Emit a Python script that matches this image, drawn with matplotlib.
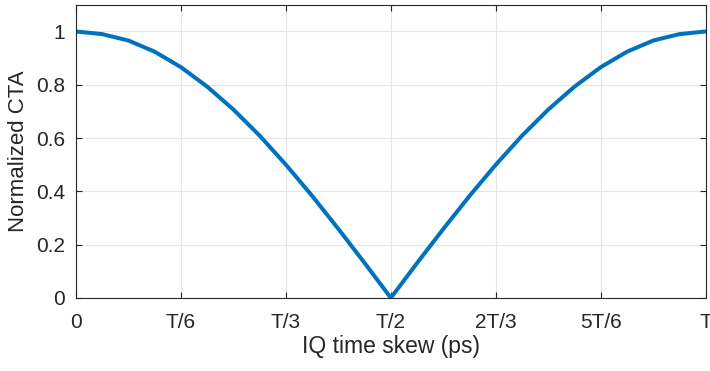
import matplotlib
matplotlib.use('Agg')
import matplotlib.pyplot as plt

# IQ skew as fraction of symbol period T, normalized CTA
skew = [0, 1/24, 2/24, 3/24, 4/24, 5/24, 6/24, 7/24, 8/24, 9/24, 10/24, 11/24, 12/24,
        13/24, 14/24, 15/24, 16/24, 17/24, 18/24, 19/24, 20/24, 21/24, 22/24, 23/24, 1]
cta = [1.0, 0.99, 0.966, 0.924, 0.866, 0.793, 0.707, 0.609, 0.5, 0.383, 0.259, 0.131, 0.0,
       0.131, 0.259, 0.383, 0.5, 0.609, 0.707, 0.793, 0.866, 0.924, 0.966, 0.99, 1.0]

xticks = [0, 1/6, 1/3, 1/2, 2/3, 5/6, 1]
xticklabels = ['0', 'T/6', 'T/3', 'T/2', '2T/3', '5T/6', 'T']
yticks = [0, 0.2, 0.4, 0.6, 0.8, 1]
yticklabels = ['0', '0.2', '0.4', '0.6', '0.8', '1']

plt.rcParams['font.family'] = ['Liberation Sans', 'DejaVu Sans']

fig = plt.figure(figsize=(7.1, 3.71), dpi=100)
ax = fig.add_axes([0.107, 0.197, 0.887, 0.79])

ax.plot(skew, cta, color='#0072BD', linewidth=2.9, solid_joinstyle='round')

ax.set_xlim(0, 1)
ax.set_ylim(0, 1.1)
ax.set_xticks(xticks)
ax.set_xticklabels(xticklabels)
ax.set_yticks(yticks)
ax.set_yticklabels(yticklabels)
ax.grid(True, color='#e6e6e6', linewidth=0.8)
ax.set_axisbelow(True)

ax.tick_params(direction='in', top=True, right=True, length=4, width=0.8,
               colors='#262626', labelsize=15)
ax.tick_params(axis='x', pad=11)
ax.tick_params(axis='y', pad=8)
for s in ax.spines.values():
    s.set_color('#262626')
    s.set_linewidth(0.8)

ax.set_xlabel('IQ time skew (ps)', fontsize=16.5, color='#262626', labelpad=2)
ax.set_ylabel('Normalized CTA', fontsize=16, color='#262626', labelpad=5)

fig.savefig('out.png', dpi=100)
